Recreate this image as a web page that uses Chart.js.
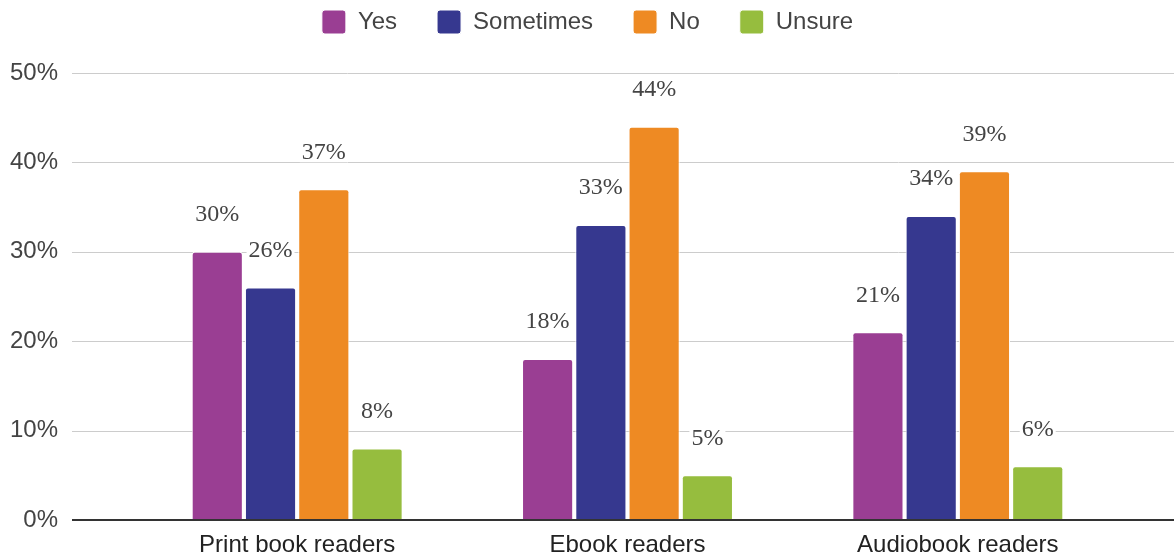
<!DOCTYPE html>
<html>
<head>
<meta charset="utf-8">
<title>Readers survey</title>
<script src="https://cdn.jsdelivr.net/npm/chart.js@4.4.0/dist/chart.umd.min.js"></script>
<style>
  html, body { margin: 0; padding: 0; background: #fff; }
  canvas { display: block; }
</style>
</head>
<body>
<canvas id="readersChart" width="1174" height="556"></canvas>
<script>
const categories = ["Print book readers", "Ebook readers", "Audiobook readers"];
const seriesNames = ["Yes", "Sometimes", "No", "Unsure"];
const yesValues = [30, 18, 21];
const sometimesValues = [26, 33, 34];
const noValues = [37, 44, 39];
const unsureValues = [8, 5, 6];
const yTicks = [0, 10, 20, 30, 40, 50];

const seriesColors = ["#9a3e93", "#36388f", "#ee8a23", "#96bd3e"];
const seriesValues = [yesValues, sometimesValues, noValues, unsureValues];

const GRID_LEFT = 72;
const LEGEND_PAD = 40;
const LEGEND_BAND = 73;

Chart.defaults.font.family = "'Liberation Sans', Arial, sans-serif";
Chart.defaults.font.size = 24;
Chart.defaults.color = "#444";

// legend: fixed band height; the box is placed absolutely after layout
// (layout can run more than once, so no relative nudges here)
const legendBand = {
  id: "legendBand",
  beforeInit(chart) {
    const fit = chart.legend.fit;
    chart.legend.fit = function () {
      fit.call(this);
      this.height = LEGEND_BAND;
    };
  },
  afterLayout(chart) {
    const lg = chart.legend;
    lg.top = -30;
    lg.bottom = lg.top + LEGEND_BAND;
    lg.left = 26;
    lg.right = chart.chartArea.right + 26;
  }
};

// gridlines run wider than the plot area, baseline sits on top of the bars
const wideGrid = {
  id: "wideGrid",
  beforeDatasetsDraw(chart) {
    const { ctx, scales: { y } } = chart;
    ctx.save();
    ctx.strokeStyle = "#cccccc";
    ctx.lineWidth = 1;
    yTicks.forEach(v => {
      if (v === 0) return;
      const py = Math.round(y.getPixelForValue(v)) + 0.5;
      ctx.beginPath();
      ctx.moveTo(GRID_LEFT, py);
      ctx.lineTo(chart.width, py);
      ctx.stroke();
    });
    ctx.restore();
  },
  afterDatasetsDraw(chart) {
    const { ctx, scales: { y } } = chart;
    const py = Math.round(y.getPixelForValue(0));
    ctx.save();
    ctx.strokeStyle = "#333333";
    ctx.lineWidth = 2;
    ctx.beginPath();
    ctx.moveTo(GRID_LEFT, py);
    ctx.lineTo(chart.width, py);
    ctx.stroke();
    ctx.restore();
  }
};

// percentage labels floating above each bar
const valueLabels = {
  id: "valueLabels",
  afterDatasetsDraw(chart) {
    const { ctx } = chart;
    ctx.save();
    ctx.font = "24px 'Liberation Serif', 'Times New Roman', serif";
    ctx.textAlign = "center";
    ctx.textBaseline = "middle";
    chart.data.datasets.forEach((ds, i) => {
      const meta = chart.getDatasetMeta(i);
      meta.data.forEach((bar, j) => {
        const text = ds.data[j] + "%";
        const w = ctx.measureText(text).width;
        const cy = bar.y - 37;
        ctx.fillStyle = "#ffffff";
        ctx.fillRect(bar.x - w / 2 - 2, cy - 10, w + 4, 20);
        ctx.fillStyle = "#444444";
        ctx.fillText(text, bar.x, cy);
      });
    });
    ctx.restore();
  }
};

new Chart(document.getElementById("readersChart"), {
  type: "bar",
  data: {
    labels: categories,
    datasets: seriesNames.map((name, i) => ({
      label: name,
      data: seriesValues[i],
      backgroundColor: seriesColors[i],
      borderColor: "#ffffff",
      borderWidth: 1,
      borderRadius: 3,
      barPercentage: 0.96,
      categoryPercentage: 0.645
    }))
  },
  options: {
    responsive: false,
    animation: false,
    layout: { padding: { top: 0, right: 51, bottom: 0, left: 0 } },
    plugins: {
      legend: {
        position: "top",
        labels: {
          boxWidth: 24,
          boxHeight: 24,
          padding: LEGEND_PAD,
          color: "#444",
          useBorderRadius: true,
          borderRadius: 3,
          font: { size: 24 }
        }
      },
      tooltip: { enabled: false }
    },
    scales: {
      x: {
        grid: { display: false, drawTicks: false },
        border: { display: false },
        afterFit(scale) { scale.height = 36; },
        ticks: { color: "#222", padding: 11, font: { size: 24 } }
      },
      y: {
        min: 0,
        max: 50,
        grid: { display: false, drawTicks: false },
        border: { display: false },
        afterFit(scale) {
          scale.width = 132;
          scale.paddingTop = 14;
          scale.paddingBottom = 14;
        },
        ticks: {
          stepSize: 10,
          padding: 74,
          color: "#444",
          font: { size: 24 },
          callback: v => v + "%"
        }
      }
    }
  },
  plugins: [legendBand, wideGrid, valueLabels]
});
</script>
</body>
</html>
